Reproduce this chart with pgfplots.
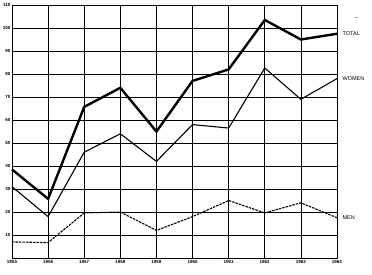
\documentclass[border=0pt]{standalone}
\usepackage{fontspec}
\setmainfont{Liberation Sans}
\usepackage{pgfplots}
\pgfplotsset{compat=1.18}
\begin{document}
\begin{tikzpicture}[x=1pt,y=1pt]
\path[use as bounding box] (0,0) rectangle (372,274);
\begin{axis}[
  at={(12pt,16pt)}, anchor=south west,
  scale only axis, width=325pt, height=253pt,
  xmin=1955, xmax=1964, ymin=0, ymax=110,
  xtick={1955,...,1964}, ytick={10,20,...,110},
  xticklabel style={font=\fontsize{4.5}{4.5}\selectfont\bfseries, yshift=1pt},
  yticklabel style={font=\fontsize{4.5}{4.5}\selectfont\bfseries, xshift=2pt},
  /pgf/number format/assume math mode=true,
  /pgf/number format/set thousands separator={},
  grid=major, major grid style={black, line width=0.6pt},
  axis line style={black, line width=0.7pt},
  major tick length=0pt,
  clip=false,
]
\addplot[black, line width=2.4pt] coordinates {
(1955,38.5) (1956,25.7) (1957,65.7) (1958,74) (1959,55) (1960,77) (1961,82) (1962,103.5) (1963,95) (1964,97.5)};
\addplot[black, line width=1.1pt] coordinates {
(1955,31) (1956,18) (1957,46) (1958,54) (1959,42) (1960,58) (1961,56.5) (1962,82.6) (1963,69) (1964,78)};
\addplot[black, line width=1.1pt, dash pattern=on 2.5pt off 1pt] coordinates {
(1955,7) (1956,6.7) (1957,19.6) (1958,20) (1959,12) (1960,18) (1961,25) (1962,19.6) (1963,24) (1964,17.5)};
\node[anchor=west, font=\fontsize{5.5}{5.5}\selectfont, inner sep=0pt] at (axis cs:1964.15,97.5) {TOTAL};
\node[anchor=west, font=\fontsize{5.5}{5.5}\selectfont, inner sep=0pt] at (axis cs:1964.15,78) {WOMEN};
\node[anchor=west, font=\fontsize{5.5}{5.5}\selectfont, inner sep=0pt] at (axis cs:1964.15,17.5) {MEN};
\node[anchor=west, font=\fontsize{5.5}{5.5}\selectfont, inner sep=0pt] at (axis cs:1964.5,104) {–};
\end{axis}
\end{tikzpicture}
\end{document}
